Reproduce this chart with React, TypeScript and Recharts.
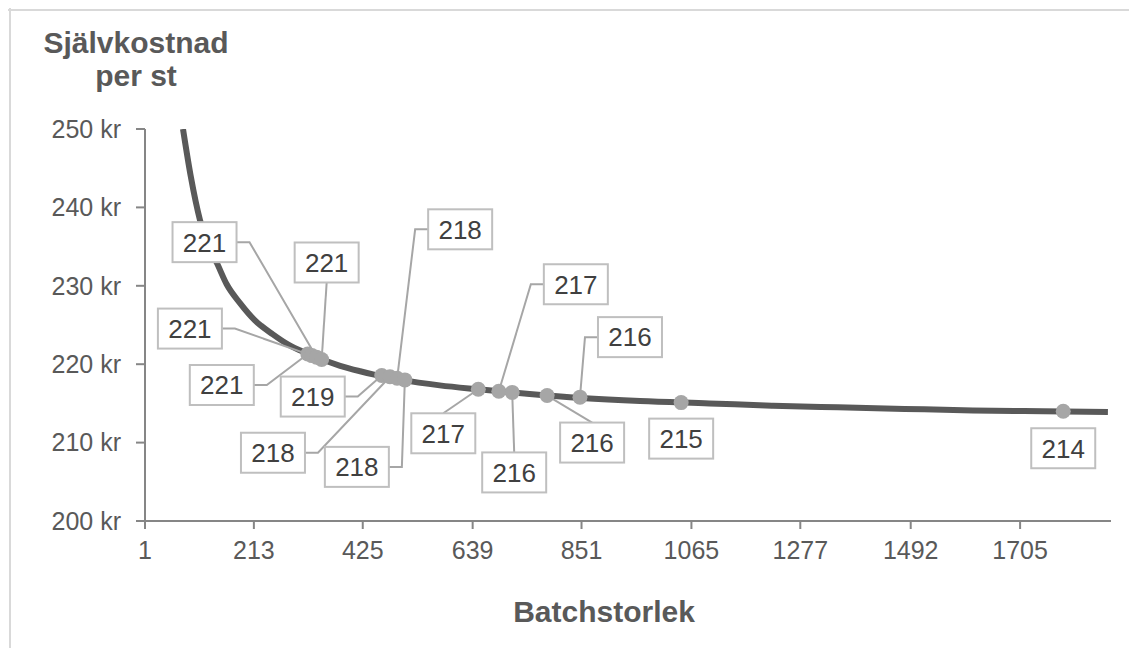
import React from 'react';
import { ComposedChart, Line, Scatter, XAxis, YAxis } from 'recharts';

// Axis ticks
const batchTicks = [1, 213, 425, 639, 851, 1065, 1277, 1492, 1705];
const costTicks = [200, 210, 220, 230, 240, 250];

// Unit cost curve (batch size -> cost per unit, kr)
const curveBatch = [75, 90, 108, 125, 141, 160, 186, 215, 250, 280, 316, 350, 381, 420, 445, 500, 575, 650, 750, 850, 965, 1100, 1224, 1350, 1480, 1613, 1750, 1876];
const curveCost = [250.0, 244.0, 238.4, 235.0, 232.9, 230.2, 227.8, 225.6, 223.8, 222.5, 221.4, 220.5, 219.8, 219.1, 218.7, 218.0, 217.3, 216.8, 216.2, 215.7, 215.3, 215.0, 214.7, 214.5, 214.3, 214.1, 214.0, 213.9];

// Highlighted batch sizes
const pointBatch = [318, 326, 335, 345, 462, 478, 492, 507, 650, 690, 716, 784, 848, 1045, 1789];
const pointCost = [221.3, 221.1, 220.9, 220.6, 218.55, 218.4, 218.2, 218.0, 216.8, 216.55, 216.4, 216.0, 215.8, 215.1, 214.0];

// Label box placement relative to each point (px) and where its leader attaches
type Side = 'left' | 'right' | 'top' | 'bottom' | 'none';
const labelLayout: { dx: number; dy: number; side: Side }[] = [
  { dx: -86, dy: 31, side: 'right' },
  { dx: -122, dy: -27, side: 'right' },
  { dx: -112, dy: -115, side: 'right' },
  { dx: 5, dy: -97, side: 'bottom' },
  { dx: -69, dy: 21, side: 'right' },
  { dx: -117, dy: 76, side: 'right' },
  { dx: 63, dy: -149, side: 'left' },
  { dx: -48, dy: 87, side: 'right' },
  { dx: -35, dy: 44, side: 'top' },
  { dx: 77, dy: -107, side: 'left' },
  { dx: 2, dy: 80, side: 'top' },
  { dx: 45, dy: 47, side: 'top' },
  { dx: 50, dy: -60, side: 'left' },
  { dx: 0, dy: 36, side: 'none' },
  { dx: 0, dy: 37, side: 'none' },
];

const curveData = curveBatch.map((b, i) => ({ batch: b, cost: curveCost[i] }));
const pointData = pointBatch.map((b, i) => ({ batch: b, cost: pointCost[i], idx: i }));

const FONT = '"Liberation Sans", Arial, sans-serif';
const TEXT = '#595959';
const AXIS = '#868686';
const FRAME = '#D9D9D9';
const BOX_W = 64;
const BOX_H = 40;
const STUB = 13;

function leaderPath(cx: number, cy: number, idx: number): string | null {
  const l = labelLayout[idx];
  const bx = cx + l.dx;
  const by = cy + l.dy;
  const left = bx - BOX_W / 2;
  const right = bx + BOX_W / 2;
  const top = by - BOX_H / 2;
  const bottom = by + BOX_H / 2;
  switch (l.side) {
    case 'right':
      return `M${right},${by}H${right + STUB}L${cx},${cy}`;
    case 'left':
      return `M${left},${by}H${left - STUB}L${cx},${cy}`;
    case 'top':
      return `M${bx},${top}L${cx},${cy}`;
    case 'bottom':
      return `M${bx},${bottom}L${cx},${cy}`;
    default:
      return null;
  }
}

const LeaderShape = (p: any) => {
  const d = leaderPath(p.cx, p.cy, p.payload.idx);
  if (!d) return <g />;
  return <path d={d} fill="none" stroke="#A6A6A6" strokeWidth={2} />;
};

const DotShape = (p: any) => <circle cx={p.cx} cy={p.cy} r={7.5} fill="#A6A6A6" />;

const BoxShape = (p: any) => {
  const l = labelLayout[p.payload.idx];
  const bx = p.cx + l.dx;
  const by = p.cy + l.dy;
  return (
    <g>
      <rect x={bx - BOX_W / 2} y={by - BOX_H / 2} width={BOX_W} height={BOX_H} fill="#FFFFFF" stroke="#BFBFBF" strokeWidth={2} />
      <text x={bx} y={by} dy="0.36em" textAnchor="middle" fontFamily={FONT} fontSize={26} fill="#404040">
        {Math.round(p.payload.cost)}
      </text>
    </g>
  );
};

const W = 1119;
const H = 638;

export default function App() {
  return (
    <div style={{ position: 'fixed', left: 8, top: 8, width: W + 2, height: H + 2, background: '#FFFFFF', overflow: 'hidden' }}>
      {/* chart frame: only its top and left edges fall inside the page */}
      <div style={{ position: 'absolute', left: 0, top: 1, width: W + 2, height: 2, background: FRAME }} />
      <div style={{ position: 'absolute', left: 1, top: 0, width: 2, height: H + 2, background: FRAME }} />
      <div style={{ position: 'absolute', left: 2, top: 2 }}>
        <ComposedChart width={W} height={H} margin={{ top: 119, right: 18, bottom: 87, left: 0 }}>
          <XAxis
            type="number"
            dataKey="batch"
            domain={[1, 1882]}
            ticks={batchTicks}
            interval={0}
            allowDataOverflow
            height={40}
            stroke={AXIS}
            strokeWidth={2}
            tickSize={8}
            tickMargin={12}
            tick={{ fill: TEXT, fontSize: 25, fontFamily: FONT }}
          />
          <YAxis
            type="number"
            domain={[200, 250]}
            ticks={costTicks}
            interval={0}
            allowDataOverflow
            width={135}
            stroke={AXIS}
            strokeWidth={2}
            tickSize={9}
            tickMargin={15}
            tickFormatter={(v: number) => `${v} kr`}
            tick={{ fill: TEXT, fontSize: 25, fontFamily: FONT }}
          />
          <Line
            data={curveData}
            dataKey="cost"
            type="monotone"
            stroke="#595959"
            strokeWidth={6}
            dot={false}
            activeDot={false}
            isAnimationActive={false}
          />
          <Scatter data={pointData} dataKey="cost" shape={LeaderShape} isAnimationActive={false} />
          <Scatter data={pointData} dataKey="cost" shape={DotShape} isAnimationActive={false} />
          <Scatter data={pointData} dataKey="cost" shape={BoxShape} isAnimationActive={false} />
        </ComposedChart>
        <svg width={W} height={H} style={{ position: 'absolute', left: 0, top: 0, pointerEvents: 'none' }}>
          <text x={126} y={43} textAnchor="middle" fontFamily={FONT} fontWeight="bold" fontSize={30} fill={TEXT}>
            Självkostnad
          </text>
          <text x={126} y={76} textAnchor="middle" fontFamily={FONT} fontWeight="bold" fontSize={30} fill={TEXT}>
            per st
          </text>
          <text x={594} y={612} textAnchor="middle" fontFamily={FONT} fontWeight="bold" fontSize={30} fill={TEXT}>
            Batchstorlek
          </text>
        </svg>
      </div>
    </div>
  );
}
